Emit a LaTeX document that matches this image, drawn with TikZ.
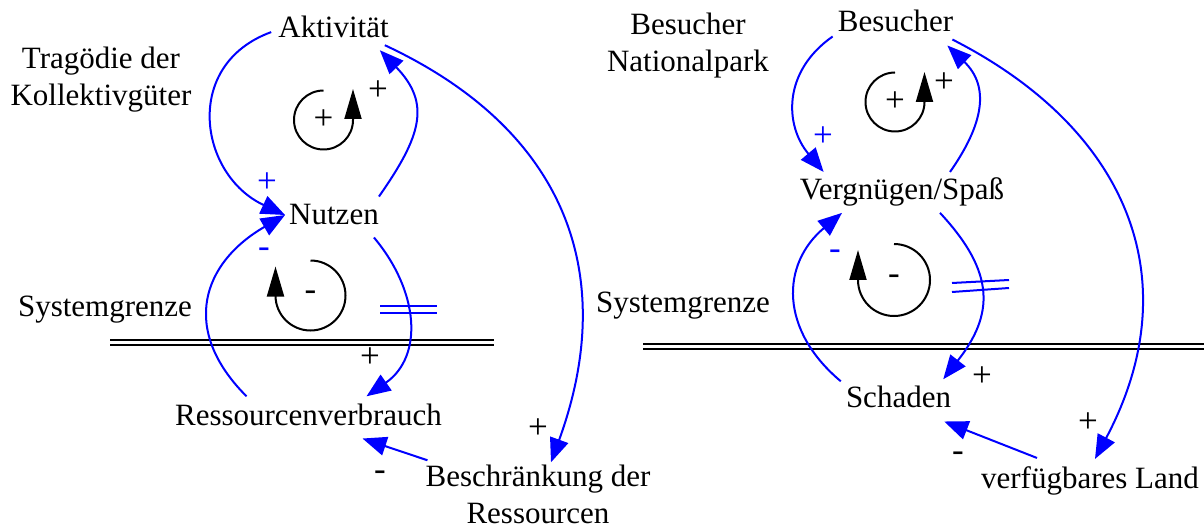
\documentclass[tikz,border=0pt]{standalone}
\usepackage{fontspec}
\setmainfont{Liberation Serif}
\usepackage{tikz}
\usetikzlibrary{arrows.meta}

\begin{document}
\begin{tikzpicture}[
  x=1pt,y=1pt,
  var/.style={font=\fontsize{31}{37}\selectfont,inner sep=0pt,anchor=base,align=center},
  sg/.style={font=\fontsize{35}{40}\selectfont,inner sep=0pt},
  lk/.style={blue,line width=2pt,-{Triangle[length=24pt,width=19pt]}},
  lp/.style={line width=2pt,-{Triangle[length=30pt,width=17pt]}},
  dl/.style={blue,line width=2pt},
  bd/.style={draw=black,double=white,double distance=3pt,line width=1.6pt}
]
\useasboundingbox (0,0) rectangle (1204,528);

\node[var] (trag) at (101,422) {Trag\"odie der\\Kollektivg\"uter};
\node[var] (akt) at (333.5,490.3) {Aktivit\"at};
\node[var] (nutzen) at (334,303) {Nutzen};
\node[var] (ress) at (308.5,103) {Ressourcenverbrauch};
\node[var] (beschr) at (538,5) {Beschr\"ankung der\\Ressourcen};
\node[var] (sysL) at (105,211.3) {Systemgrenze};

\node[var] (besNP) at (688,456) {Besucher\\Nationalpark};
\node[var] (bes) at (895.5,496) {Besucher};
\node[var] (verg) at (902,328) {Vergn\"ugen/Spa\ss};
\node[var] (schaden) at (898.5,121) {Schaden};
\node[var] (land) at (1090,40) {verf\"ugbares Land};
\node[var] (sysR) at (683,216) {Systemgrenze};

\draw[bd] (110,185.5) -- (494,185.5);
\draw[bd] (643,181.5) -- (1204,181.5);

\draw[lk] ([shift={(-7,-5)}]akt.west) .. controls +(200:95) and +(155:95) .. ([xshift=-4pt]nutzen.west);
\draw[lk] ([yshift=8pt]nutzen.north east) .. controls +(55:74) and +(-46:74) .. ([shift={(-9,-12)}]akt.south east);
\draw[lk] ([shift={(-62,7)}]ress.north) .. controls +(135:95) and +(210:95) .. ([xshift=-4pt]nutzen.west);
\draw[lk] ([shift={(-5,-12)}]nutzen.south east) .. controls +(-50:70) and +(35:70) .. ([shift={(58,7)}]ress.north);
\draw[lk] ([shift={(-4,-7)}]akt.south east) .. controls +(-25:200) and +(70:200) .. ([shift={(13,2)}]beschr.north);
\draw[lk] ([shift={(2,4)}]beschr.north west) -- ([shift={(54,-13)}]ress.south);

\draw[lk] ([shift={(-5,-4)}]bes.south west) .. controls +(215:61) and +(130:61) .. ([shift={(24,6)}]verg.north west);
\draw[lk] ([shift={(48,6)}]verg.north) .. controls +(55:59) and +(-44:59) .. ([shift={(-6,-13)}]bes.south east);
\draw[lk] ([shift={(-5,4)}]schaden.north west) .. controls +(140:80) and +(220:80) .. ([shift={(-60,-6)}]verg.south);
\draw[lk] ([shift={(38,-6)}]verg.south) .. controls +(-47:82) and +(52:82) .. ([shift={(-8,6)}]schaden.north east);
\draw[lk] ([shift={(-1,-7)}]bes.south east) .. controls +(-27:200) and +(62:200) .. ([shift={(5,7)}]land.north);
\draw[lk] ([shift={(-53,8)}]land.north) -- ([shift={(-7,-14)}]schaden.south east);

\draw[dl] (380,222) -- (437,222);
\draw[dl] (380,215) -- (437,215);
\draw[dl] (952,245) -- (1009,248);
\draw[dl] (952,236) -- (1009,240);

\coordinate (lpA) at (323.5,408);
\coordinate (lpB) at (310.5,232.5);
\coordinate (lpC) at (895,426);
\coordinate (lpD) at (894,248);
\draw[lp] ([yshift=29.5pt]lpA) arc[start angle=90,end angle=360,radius=29.5] -- ++(0,31);
\draw[lp] ([yshift=35pt]lpB) arc[start angle=90,end angle=-180,radius=35] -- ++(0,29);
\draw[lp] ([yshift=29.5pt]lpC) arc[start angle=90,end angle=360,radius=29.5] -- ++(0,30);
\draw[lp] ([yshift=36pt]lpD) arc[start angle=90,end angle=-180,radius=36] -- ++(0,30);

\node[sg] at (lpA) {+};
\node[sg] at (lpB) {-};
\node[sg] at (lpC) {+};
\node[sg] at (lpD) {-};

\node[sg,blue] at (267,345) {+};
\node[sg] at (378,437) {+};
\node[sg,blue] at (264,275) {-};
\node[sg] at (370,170) {+};
\node[sg] at (380,52) {-};
\node[sg] at (538,99) {+};

\node[sg,blue] at (823,391) {+};
\node[sg] at (944,445) {+};
\node[sg,blue] at (835,273) {-};
\node[sg] at (982,151) {+};
\node[sg] at (958,71) {-};
\node[sg] at (1088,105) {+};
\end{tikzpicture}
\end{document}
